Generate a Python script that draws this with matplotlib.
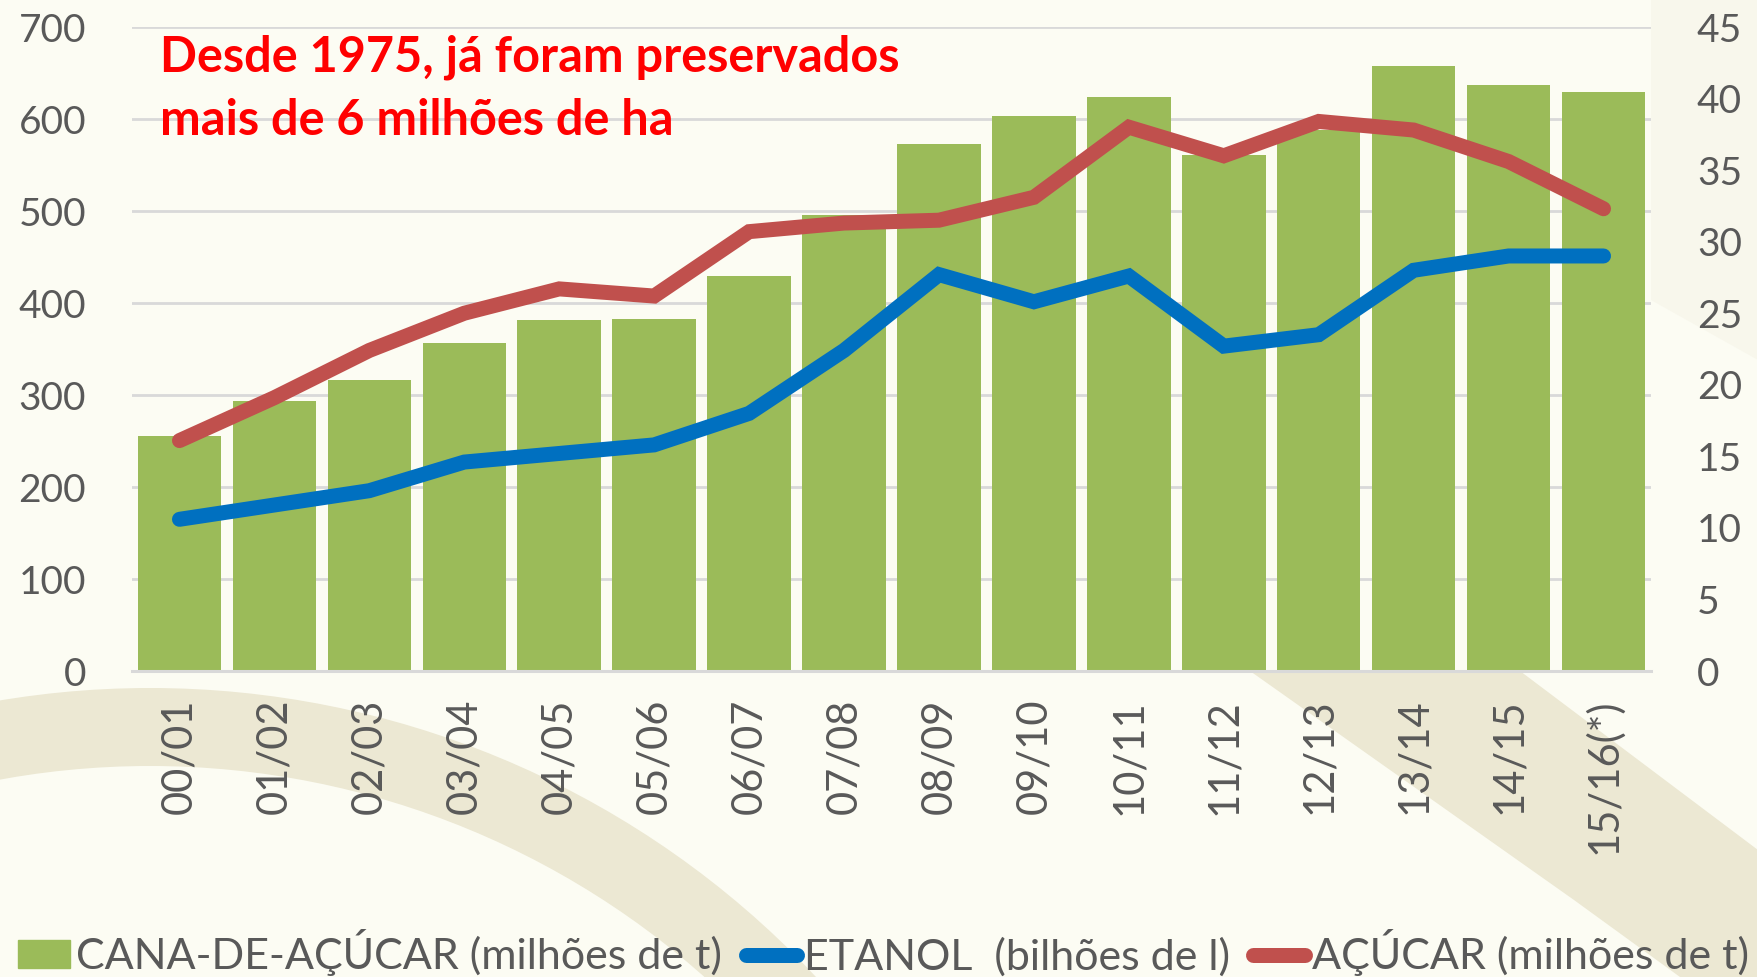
import matplotlib
matplotlib.use("Agg")
import matplotlib.pyplot as plt
from matplotlib import font_manager
from matplotlib.patches import Patch, Wedge, Polygon
from matplotlib.lines import Line2D

# safras
safras = ["00/01", "01/02", "02/03", "03/04", "04/05", "05/06", "06/07", "07/08",
          "08/09", "09/10", "10/11", "11/12", "12/13", "13/14", "14/15", "15/16(*)"]

# cana-de-açúcar, milhões de t (eixo esquerdo)
cana = [255, 293, 316, 357, 382, 383, 429, 496, 573, 603, 624, 561, 588, 658, 637, 629]
# etanol, bilhões de l (eixo direito)
etanol = [10.6, 11.6, 12.6, 14.6, 15.2, 15.8, 18.0, 22.4, 27.7, 25.8, 27.6, 22.7, 23.5, 28.0, 29.0, 29.0]
# açúcar, milhões de t (eixo direito)
acucar = [16.1, 19.1, 22.4, 25.0, 26.7, 26.2, 30.7, 31.3, 31.5, 33.1, 38.0, 36.0, 38.4, 37.8, 35.6, 32.3]

left_ticks = [0, 100, 200, 300, 400, 500, 600, 700]
right_ticks = [0, 5, 10, 15, 20, 25, 30, 35, 40, 45]

titulo = ["Desde 1975, já foram preservados", "mais de 6 milhões de ha"]
legendas = ["CANA-DE-AÇÚCAR (milhões de t)", "ETANOL  (bilhões de l)", "AÇÚCAR (milhões de t)"]

GREEN = "#9BBB59"
BLUE = "#0070C0"
RED = "#C0504D"
GRAY = "#595959"
GRID = "#D9D9D9"
BG = "#FCFCF3"
BAND = "#ECE8D3"

available = {f.name for f in font_manager.fontManager.ttflist}
main_font = "Lato" if "Lato" in available else "DejaVu Sans"

W, H = 1758, 977
fig = plt.figure(figsize=(W / 100, H / 100), dpi=100, facecolor=BG)

# decorative background (pixel coords, y downwards)
bg = fig.add_axes([0, 0, 1, 1], zorder=-10)
bg.set_xlim(0, W)
bg.set_ylim(H, 0)
bg.axis("off")
bg.add_patch(Wedge((150, 1600), 912, 180, 360, width=78, color=BAND, lw=0))
bg.add_patch(Polygon([(1250, 671), (1520, 671), (1758, 850), (1758, 977),
                      (1680, 977), (1574, 900)], closed=True, color=BAND, lw=0))
bg.add_patch(Polygon([(1651, 0), (1758, 0), (1758, 360), (1651, 300)],
                     closed=True, color="#F8F7EC", lw=0))

ax = fig.add_axes([132 / W, 1 - 671 / H, (1651 - 132) / W, (671 - 27) / H])
ax.set_facecolor(BG)
x = range(len(safras))
ax.bar(x, cana, width=0.88, color=GREEN, zorder=2)
ax.set_xlim(-0.5, len(safras) - 0.5)
ax.set_ylim(0, 700)
ax.set_yticks(left_ticks)
ax.grid(axis="y", color=GRID, linewidth=2, zorder=0)
ax.set_axisbelow(True)
for s in ["top", "right", "left"]:
    ax.spines[s].set_visible(False)
ax.spines["bottom"].set_color(GRID)
ax.spines["bottom"].set_linewidth(2.2)
ax.tick_params(axis="y", length=0, pad=33, labelsize=28, labelcolor=GRAY)
ax.tick_params(axis="x", length=0, pad=20, labelcolor=GRAY)
ax.set_xticks(list(x))
ax.set_xticklabels(safras, rotation=90, fontsize=30, family=main_font, va="top")
for lab in ax.get_yticklabels():
    lab.set_family(main_font)

ax2 = ax.twinx()
ax2.plot(x, etanol, color=BLUE, lw=10.8, solid_capstyle="round", solid_joinstyle="miter", zorder=3)
ax2.plot(x, acucar, color=RED, lw=10.8, solid_capstyle="round", solid_joinstyle="miter", zorder=3)
ax2.set_ylim(0, 45)
ax2.set_yticks(right_ticks)
for s in ax2.spines.values():
    s.set_visible(False)
ax2.tick_params(axis="y", length=0, pad=33, labelsize=28, labelcolor=GRAY)
for lab in ax2.get_yticklabels():
    lab.set_family(main_font)

fig.text(160 / W, 1 - 72 / H, titulo[0], color="#FF0000", fontsize=35,
         fontweight="bold", family=main_font, va="baseline")
fig.text(160 / W, 1 - 135 / H, titulo[1], color="#FF0000", fontsize=35,
         fontweight="bold", family=main_font, va="baseline")

handles = [Patch(color=GREEN),
           Line2D([], [], color=BLUE, lw=10.8, solid_capstyle="round"),
           Line2D([], [], color=RED, lw=10.8, solid_capstyle="round")]
leg = fig.legend(handles, legendas, loc="center left", bbox_to_anchor=(18 / W, 1 - 953 / H),
                 ncol=3, frameon=False, handlelength=1.2, handleheight=0.62,
                 handletextpad=0.15, columnspacing=0.55, borderaxespad=0, borderpad=0,
                 prop={"family": main_font, "size": 31})
for t in leg.get_texts():
    t.set_color(GRAY)

fig.savefig("out.png", dpi=100, facecolor=BG)
